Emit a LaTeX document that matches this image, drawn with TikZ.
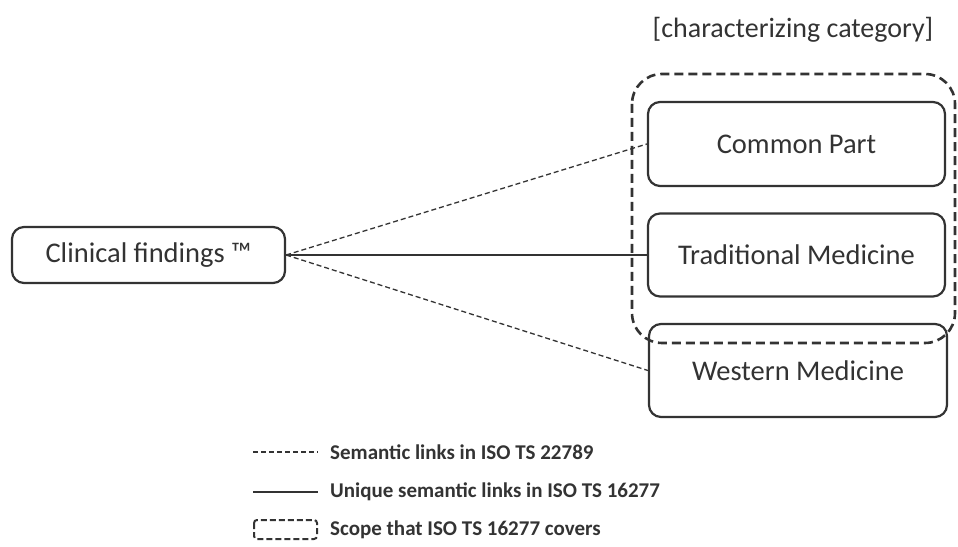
\documentclass[tikz,border=0pt]{standalone}
\usepackage{fontspec}
\setmainfont{Carlito}
\definecolor{ink}{HTML}{333333}
\begin{document}
\begin{tikzpicture}[x=1pt,y=1pt,
  box/.style={draw=ink,line width=2.2pt,rounded corners=12pt,text=ink,font=\fontsize{28.5}{32}\selectfont,inner sep=0pt},
  sem/.style={draw=ink,line width=1.3pt,dash pattern=on 5pt off 3pt},
  uni/.style={draw=ink,line width=1.5pt},
  scope/.style={draw=ink,line width=2.6pt,dash pattern=on 9pt off 5pt},
  leg/.style={anchor=west,text=ink,font=\fontsize{21}{24}\selectfont\bfseries,inner sep=0pt}]
\useasboundingbox (0,0) rectangle (958,546);
\node[box,minimum width=273pt,minimum height=56pt] (clin) at (148.5,291) {Clinical findings ™};
\node[box,minimum width=297pt,minimum height=84pt] (common) at (796.5,402) {Common Part};
\node[box,minimum width=297pt,minimum height=83pt] (trad) at (796.5,291) {Traditional Medicine};
\node[box,minimum width=298pt,minimum height=93pt] (west) at (798,175.5) {Western Medicine};
\draw[scope,rounded corners=30pt] (632,472) rectangle (955,203);
\node[text=ink,font=\fontsize{28}{32}\selectfont,inner sep=0pt] (cat) at (793,516) {[characterizing category]};
\draw[sem] (clin.east) -- (common.west);
\draw[uni] (clin.east) -- (trad.west);
\draw[sem] (clin.east) -- (west.west);
% legend
\coordinate (l1a) at (253,94); \coordinate (l1b) at (318,94);
\coordinate (l2a) at (253,54); \coordinate (l2b) at (318,54);
\draw[sem] (l1a) -- (l1b);
\draw[uni] (l2a) -- (l2b);
\draw[draw=ink,line width=2pt,dash pattern=on 6pt off 3pt,rounded corners=3pt] (254,26) rectangle (317,7);
\node[leg] (t1) at (330,94) {Semantic links in ISO TS 22789};
\node[leg] (t2) at (330,54) {Unique semantic links in ISO TS 16277};
\node[leg] (t3) at (330,16) {Scope that ISO TS 16277 covers};
\end{tikzpicture}
\end{document}
